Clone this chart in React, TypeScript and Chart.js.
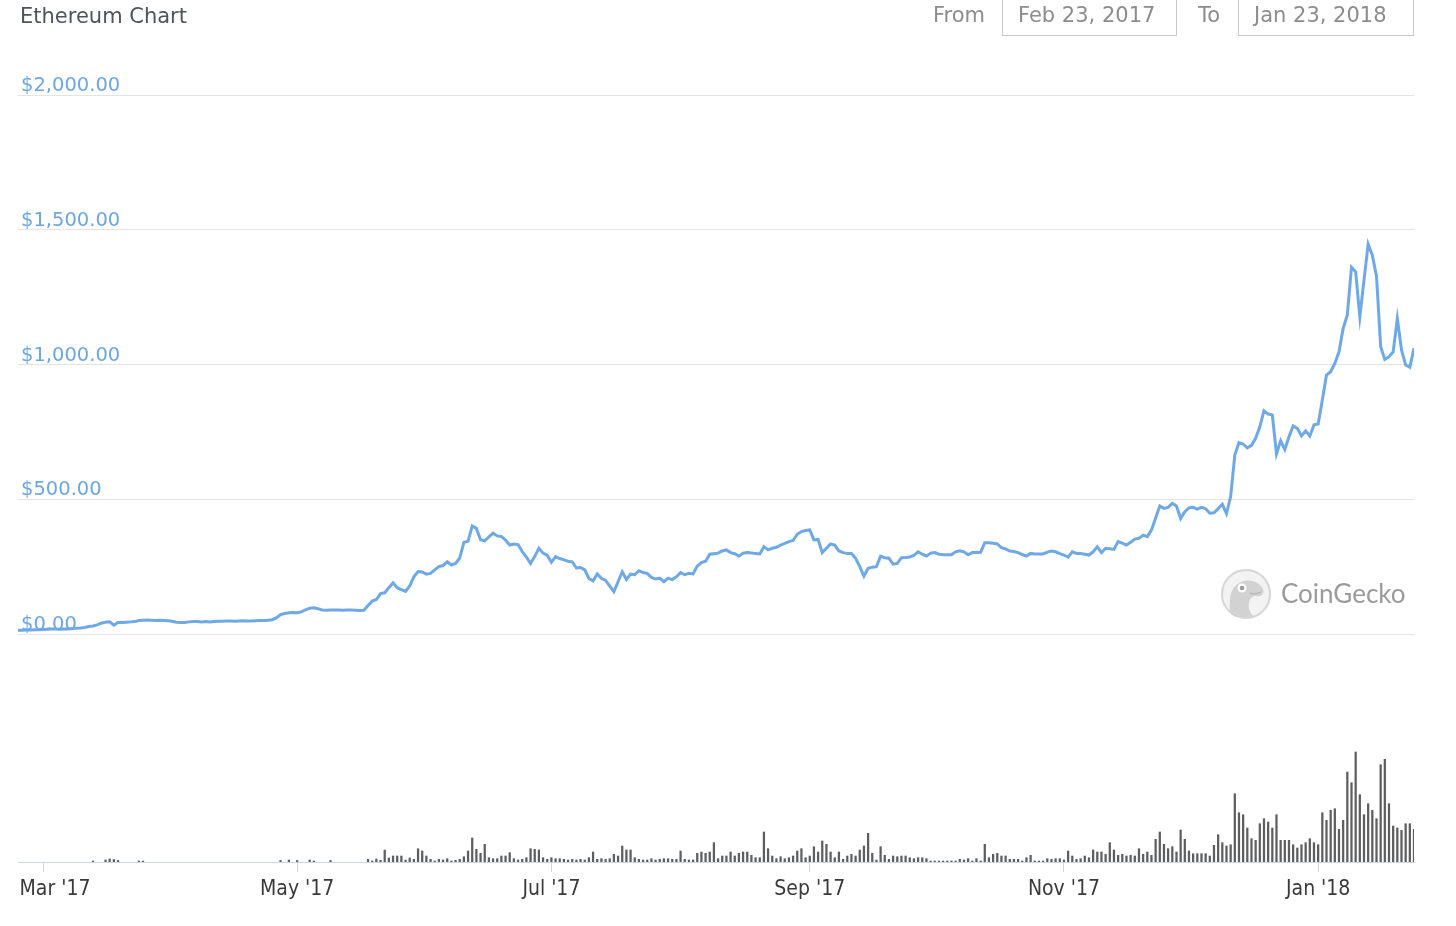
import React, { useEffect, useRef } from "react";
import { Chart, registerables } from "chart.js";

Chart.register(...registerables);

// Day 0 = Feb 23, 2017 ; last day (335) = Jan 24, 2018
const START_DATE = "2017-02-23";

// Daily ETH price in USD
const prices = [
  14, 14, 15, 15, 16, 16, 17, 18, 19, 19,
  18, 19, 19, 20, 21, 22, 24, 28, 30, 34,
  40, 44, 45, 33, 43, 43, 44, 45, 46, 50,
  51, 52, 51, 50, 51, 50, 49, 47, 44, 43,
  43, 45, 46, 46, 45, 46, 45, 46, 47, 47,
  48, 48, 47, 48, 49, 48, 48, 49, 50, 50,
  51, 53, 60, 72, 76, 79, 80, 79, 82, 90,
  96, 97, 94, 89, 88, 89, 89, 89, 88, 89,
  89, 88, 87, 88, 106, 122, 128, 150, 153, 172,
  190, 172, 165, 158, 178, 212, 232, 230, 222, 225,
  238, 250, 254, 268, 256, 262, 282, 340, 344, 401,
  392, 350, 346, 360, 374, 364, 362, 348, 330, 334,
  332, 306, 285, 262, 288, 318, 300, 292, 266, 287,
  280, 275, 270, 268, 245, 247, 238, 206, 197, 223,
  207, 199, 178, 157, 194, 231, 202, 222, 220, 235,
  228, 225, 210, 204, 207, 194, 207, 202, 212, 228,
  220, 225, 223, 252, 265, 270, 296, 298, 300, 308,
  312, 302, 298, 289, 300, 302, 301, 299, 297, 324,
  312, 318, 322, 330, 336, 343, 347, 370, 380, 384,
  386, 349, 351, 302, 318, 334, 330, 308, 302, 299,
  299, 281, 250, 215, 244, 248, 250, 289, 283, 281,
  259, 262, 283, 284, 286, 292, 305, 296, 289, 300,
  302, 296, 294, 294, 294, 305, 309, 305, 294, 302,
  302, 303, 339, 339, 337, 334, 320, 316, 308, 306,
  302, 295, 289, 299, 297, 297, 297, 304, 308, 305,
  298, 293, 285, 305, 299, 299, 296, 293, 305, 324,
  302, 318, 316, 314, 343, 337, 330, 340, 352, 355,
  367, 361, 386, 430, 475, 466, 470, 485, 475, 429,
  454, 468, 470, 463, 470, 465, 448, 450, 465, 482,
  447, 510, 664, 710, 705, 691, 700, 726, 769, 828,
  816, 813, 668, 717, 685, 732, 772, 763, 735, 754,
  735, 776, 779, 868, 961, 973, 1004, 1047, 1134, 1184,
  1361, 1344, 1177, 1313, 1447, 1406, 1328, 1066, 1019, 1029,
  1047, 1171, 1054, 998, 990, 1060,
];

// Daily trading volume (relative units)
const volumes = [
  0, 0, 0, 0, 0, 0, 0, 0, 0, 0,
  0, 0, 0, 0, 0, 0, 0, 0, 1, 0,
  0, 2, 3, 2.5, 1.5, 0, 0, 0, 0, 1,
  1, 0, 0, 0, 0, 0, 0, 0, 0, 0,
  0, 0, 0, 0, 0, 0, 0, 0, 0, 0,
  0, 0, 0, 0, 0, 0, 0, 0, 0, 0,
  0, 0, 0, 1.5, 0, 2, 0, 1.5, 0, 0,
  2, 1, 0, 0, 0, 1.5, 0, 0, 0, 0,
  0, 0, 0, 0, 2.7, 1, 3, 1.7, 12, 4,
  6, 6, 6, 2, 4, 2.7, 13.3, 11, 6, 2.7,
  1, 2.7, 2, 3.3, 1, 1.7, 2.7, 5.3, 11, 24,
  12.7, 8.7, 17.7, 4.3, 3.3, 3.3, 6, 6, 9.3, 3.3,
  2, 2.7, 4.3, 13.3, 12.7, 12, 4.3, 2.7, 4.3, 3.3,
  3.3, 2.7, 2, 2.7, 2, 2.7, 2, 4.3, 10, 2.7,
  3.3, 2.7, 3.3, 7.7, 6, 16, 12, 12, 4.3, 2.7,
  2, 2, 3.3, 2, 2.7, 3.3, 3.3, 2.7, 2.7, 11,
  2.7, 2, 2, 8.7, 10, 8.7, 10, 19.3, 3.3, 6,
  6, 10, 6, 8.7, 10, 10, 6.7, 4.3, 4.3, 30,
  13.3, 6, 3.3, 5.3, 3.3, 4.3, 6, 11, 13.3, 4.3,
  6, 15.3, 10, 21, 17.7, 10, 4.3, 10, 2.7, 6,
  7.7, 6, 12, 16, 28.7, 8.7, 2, 15.3, 6.7, 2.7,
  6, 5.3, 6, 6, 4.3, 3.3, 4.3, 4.3, 3.3, 1,
  1, 1, 1, 1, 1, 1, 2.7, 2, 3.3, 1,
  3.3, 1, 17.7, 4.3, 7.7, 8.7, 6, 6, 2.7, 2.7,
  2.7, 1, 4.3, 6.7, 1, 1, 1, 3.3, 2.7, 3.3,
  3.3, 2, 11, 6, 2.7, 3.3, 6, 4.3, 12, 10,
  10, 7.7, 19.3, 12, 6.7, 7.7, 6, 6.7, 6, 13.3,
  7.7, 10, 6.7, 22.7, 30, 17.7, 13.3, 15.3, 10, 32,
  22.7, 11, 8.3, 8.3, 8.3, 8.3, 6, 16.7, 27.3, 19.3,
  16, 17.3, 68.3, 49.3, 47.3, 34, 23.3, 21.7, 38.3, 43.3,
  40, 34, 47.3, 21.7, 21.7, 21.7, 17.3, 14, 17.3, 19.3,
  23.3, 19.3, 17.3, 49.3, 41.7, 51.7, 53.3, 32.7, 41.7, 90,
  79.3, 110, 67.3, 47.3, 58.3, 51.7, 43.3, 97.3, 102.7, 58.3,
  36, 34, 31.7, 38.3, 38.3, 32.7,
];

// Month ticks (day index from START_DATE) and their labels
const tickDays = [6, 67, 128, 190, 251, 312];
const tickLabels = ["Mar '17", "May '17", "Jul '17", "Sep '17", "Nov '17", "Jan '18"];

// Price axis ticks
const priceTicks = [0, 500, 1000, 1500, 2000];

const TITLE = "Ethereum Chart";
const FROM_LABEL = "Feb 23, 2017";
const TO_LABEL = "Jan 23, 2018";

const LINE_COLOR = "#6ea9e6";
const UI_FONT = "'DejaVu Sans', 'Liberation Sans', sans-serif";

function fmtPrice(v: number): string {
  return "$" + v.toLocaleString("en-US", { minimumFractionDigits: 2, maximumFractionDigits: 2 });
}

function PriceChart() {
  const ref = useRef<HTMLCanvasElement | null>(null);
  useEffect(() => {
    if (!ref.current) return;
    const chart = new Chart(ref.current, {
      type: "line",
      data: {
        datasets: [
          {
            type: "line",
            label: "Price",
            data: prices.map((p, i) => ({ x: i, y: p })),
            borderColor: LINE_COLOR,
            borderWidth: 3,
            pointRadius: 0,
            tension: 0,
            yAxisID: "y",
            order: 0,
          },
          {
            type: "bar",
            label: "Volume",
            data: volumes.map((v, i) => ({ x: i, y: v > 0 ? v : null })),
            backgroundColor: "#5e5e5e",
            borderWidth: 0,
            barThickness: 1.6,
            yAxisID: "y2",
            order: 1,
          } as any,
        ],
      },
      options: {
        responsive: false,
        animation: false,
        layout: { padding: { left: 18, right: 42, top: 95, bottom: 0 } },
        plugins: { legend: { display: false }, tooltip: { enabled: false } },
        scales: {
          x: {
            type: "linear",
            offset: false,
            min: 0,
            max: prices.length - 1,
            afterBuildTicks: (s: any) => {
              s.ticks = tickDays.map((d) => ({ value: d }));
            },
            afterFit: (s: any) => {
              s.height = 64;
              s.paddingLeft = 0;
              s.paddingRight = 0;
            },
            grid: {
              display: true,
              offset: false,
              drawOnChartArea: false,
              drawTicks: true,
              tickLength: 10,
              color: "#ccd6eb",
              lineWidth: 1,
            },
            border: { display: true, color: "#ccd6eb", width: 1 },
            ticks: {
              autoSkip: false,
              maxRotation: 0,
              padding: 5,
              color: "#3a3a3a",
              font: { family: "'DejaVu Sans Condensed', 'DejaVu Sans', sans-serif", size: 21 },
              callback: (v: any) => {
                const i = tickDays.indexOf(Number(v));
                if (i < 0) return "";
                // first label is pushed inside the plot edge, as in the original
                return i === 0 ? "    " + tickLabels[i] : tickLabels[i];
              },
            },
          },
          y: {
            type: "linear",
            position: "left",
            min: -846,
            max: 2000,
            afterBuildTicks: (s: any) => {
              s.ticks = priceTicks.map((v) => ({ value: v }));
            },
            afterFit: (s: any) => {
              s.width = 0;
            },
            grid: { color: "#e3e3e3", lineWidth: 1, drawTicks: false },
            border: { display: false },
            ticks: {
              mirror: true,
              padding: 3,
              labelOffset: -9,
              color: "#6ea6e0",
              font: { family: UI_FONT, size: 19.5 },
              callback: (v: any) => fmtPrice(Number(v)),
            },
          },
          y2: {
            type: "linear",
            display: false,
            min: 0,
            max: 767,
          },
        },
      },
    } as any);
    return () => chart.destroy();
  }, []);
  return <canvas ref={ref} width={1456} height={926} style={{ display: "block" }} />;
}

function GeckoLogo() {
  return (
    <svg width="52" height="52" viewBox="0 0 52 52" style={{ position: "absolute", left: 1220, top: 568 }}>
      <circle cx="26" cy="26" r="24" fill="#f3f3f3" stroke="#d6d6d6" strokeWidth="2" />
      <path
        d="M11 46 C8 32 10 19 21 14 C31 10 40 15 43 21 C45 26 41 29 36 28 C32 28 30 30 29 35 C28 40 30 44 33 48 C26 50 17 50 11 46 Z"
        fill="#d2d2d2"
      />
      <circle cx="22" cy="20" r="4.5" fill="#ffffff" />
      <circle cx="22" cy="20" r="2.3" fill="#9a9a9a" />
      <path d="M30 25 Q35 27 41 24" stroke="#b5b5b5" strokeWidth="1.2" fill="none" />
    </svg>
  );
}

export default function App() {
  const boxStyle: React.CSSProperties = {
    position: "absolute",
    top: -8,
    height: 44,
    boxSizing: "border-box",
    border: "1px solid #c9c9c9",
    display: "flex",
    alignItems: "center",
    paddingLeft: 15,
    paddingTop: 2,
    color: "#8c8c8c",
    fontFamily: UI_FONT,
    fontSize: 21,
  };
  const labelStyle: React.CSSProperties = {
    position: "absolute",
    top: 0,
    height: 30,
    lineHeight: "30px",
    color: "#8c8c8c",
    fontFamily: UI_FONT,
    fontSize: 21,
  };
  return (
    <div
      style={{
        position: "absolute",
        left: 0,
        top: 0,
        width: 1456,
        height: 926,
        overflow: "hidden",
        background: "#ffffff",
      }}
      data-start={START_DATE}
    >
      <PriceChart />
      <div
        style={{
          position: "absolute",
          left: 20,
          top: 2,
          height: 28,
          lineHeight: "28px",
          fontFamily: UI_FONT,
          fontSize: 21,
          color: "#4f545a",
        }}
      >
        {TITLE}
      </div>
      <div style={{ ...labelStyle, left: 933 }}>From</div>
      <div style={{ ...boxStyle, left: 1002, width: 175 }}>{FROM_LABEL}</div>
      <div style={{ ...labelStyle, left: 1198 }}>To</div>
      <div style={{ ...boxStyle, left: 1238, width: 176 }}>{TO_LABEL}</div>
      <GeckoLogo />
      <div
        style={{
          position: "absolute",
          left: 1281,
          top: 576,
          height: 34,
          lineHeight: "34px",
          fontFamily: "Lato, 'Open Sans', sans-serif",
          fontSize: 26,
          color: "#9b9b9b",
        }}
      >
        CoinGecko
      </div>
    </div>
  );
}
